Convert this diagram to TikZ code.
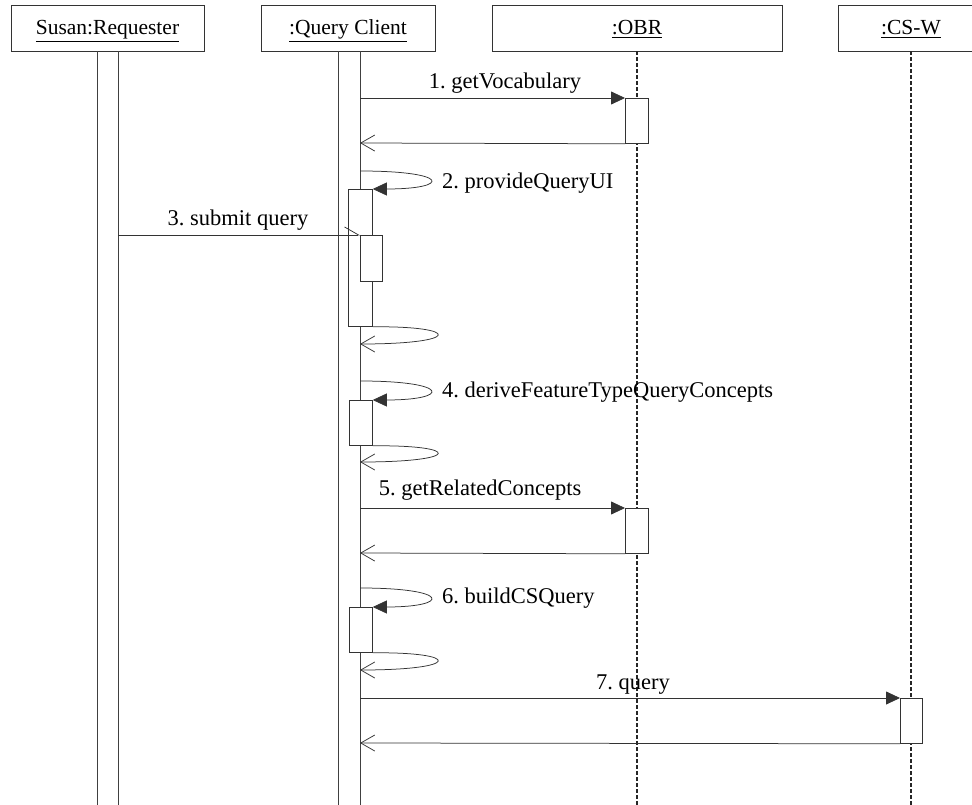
\documentclass[tikz,border=0pt]{standalone}
\usepackage{fontspec}
\setmainfont{Liberation Serif}
\usetikzlibrary{arrows.meta}
\frenchspacing
\begin{document}
\begin{tikzpicture}[x=1pt,y=-1pt,
  every node/.style={font=\fontsize{22.5}{27}\selectfont},
  head/.style={draw=black!80, line width=0.9pt, minimum height=46pt, inner sep=0pt,
               text height=16pt, text depth=2pt, fill=white, font=\fontsize{21.5}{26}\selectfont},
  bar/.style={draw=black!75, line width=0.9pt},
  lifedash/.style={draw=black!85, line width=1.1pt, dash pattern=on 4pt off 2pt},
  actbox/.style={draw=black!80, line width=0.8pt, fill=white, inner sep=0pt, anchor=north west},
  msg/.style={draw=black!80, line width=0.75pt},
  call/.style={msg, -{Triangle[length=14pt,width=13pt]}},
  reply/.style={msg, -{Straight Barb[length=14pt,width=16pt]}},
  half/.style={msg, -{Straight Barb[left,length=14pt,width=16pt]}},
  lbl/.style={inner sep=0pt},
]
\useasboundingbox (0,0) rectangle (972,805);
\fill[white] (0,0) rectangle (972,805);

% lifeline heads
\begin{scope}
\clip (0,0) rectangle (972,805);
\node[head, minimum width=193pt] (req) at (107.5,28) {\underline{Susan:Requester}};
\node[head, minimum width=174pt] (qc)  at (348,28)   {\underline{:Query Client}};
\node[head, minimum width=290pt] (obr) at (637,28)   {\underline{:OBR}};
\node[head, minimum width=146pt] (csw) at (911,28)   {\underline{:CS-W}};
\end{scope}

% bottom ends of the lifelines
\coordinate (reqL) at (97,805);  \coordinate (reqR) at (118,805);
\coordinate (qcL)  at (338,805); \coordinate (qcR)  at (360,805);
\coordinate (obrE) at (637,805); \coordinate (cswE) at (911,805);

% lifelines: permanent activation bars and dashed lines
\draw[bar] (reqL|-req.south) -- (reqL);
\draw[bar] (reqR|-req.south) -- (reqR);
\draw[bar] (qcL|-qc.south) -- (qcL);
\draw[bar] (qcR|-qc.south) -- (qcR);
\draw[lifedash] (obr.south) -- (obrE);
\draw[lifedash] (csw.south) -- (cswE);

% activation boxes
\node[actbox, minimum width=23pt, minimum height=45pt]  (a1) at (625,98)  {};
\node[actbox, minimum width=24pt, minimum height=137pt] (b2) at (348,189) {};
\node[actbox, minimum width=22pt, minimum height=46pt]  (b3) at (360,235) {};
\node[actbox, minimum width=23pt, minimum height=45pt]  (b4) at (349,400) {};
\node[actbox, minimum width=23pt, minimum height=45pt]  (a5) at (625,508) {};
\node[actbox, minimum width=23pt, minimum height=45pt]  (b6) at (349,607) {};
\node[actbox, minimum width=22pt, minimum height=45pt]  (a7) at (900,698) {};

% message end points on the Query Client bar
\coordinate (m1s) at (360,98);  \coordinate (m1r) at (360,143);
\coordinate (m2s) at (360,171); \coordinate (m2r) at (360,344);
\coordinate (m3s) at (118,235);
\coordinate (m4s) at (360,381); \coordinate (m4r) at (360,462);
\coordinate (m5s) at (360,508); \coordinate (m5r) at (360,553);
\coordinate (m6s) at (360,588); \coordinate (m6r) at (360,670);
\coordinate (m7s) at (360,698); \coordinate (m7r) at (360,743);

% 1. getVocabulary
\draw[call] (m1s) -- (a1.north west);
\draw[reply] (a1.south west) -- (m1r);
\node[lbl] (l1) at (505,83) {1. getVocabulary};

% 2. provideQueryUI
\draw[call] (m2s) .. controls (451,171) and (451,189) .. (b2.north east);
\node[lbl, anchor=west] (l2) at (442,183) {2. provideQueryUI};
\draw[reply] (b2.south east) .. controls (462,326) and (462,344) .. (m2r);

% 3. submit query
\draw[half] (m3s) -- (b3.north west);
\node[lbl] (l3) at (238,220) {3. submit query};

% 4. deriveFeatureTypeQueryConcepts
\draw[call] (m4s) .. controls (451,381) and (451,400) .. (b4.north east);
\node[lbl, anchor=west] (l4) at (442,392) {4. deriveFeatureTypeQueryConcepts};
\draw[reply] (b4.south east) .. controls (462,445) and (462,462) .. (m4r);

% 5. getRelatedConcepts
\draw[call] (m5s) -- (a5.north west);
\draw[reply] (a5.south west) -- (m5r);
\node[lbl] (l5) at (480,490) {5. getRelatedConcepts};

% 6. buildCSQuery
\draw[call] (m6s) .. controls (451,588) and (451,607) .. (b6.north east);
\node[lbl, anchor=west] (l6) at (442,598) {6. buildCSQuery};
\draw[reply] (b6.south east) .. controls (462,652) and (462,670) .. (m6r);

% 7. query
\draw[call] (m7s) -- (a7.north west);
\draw[reply] (a7.south west) -- (m7r);
\node[lbl] (l7) at (633,685) {7. query};
\end{tikzpicture}
\end{document}
